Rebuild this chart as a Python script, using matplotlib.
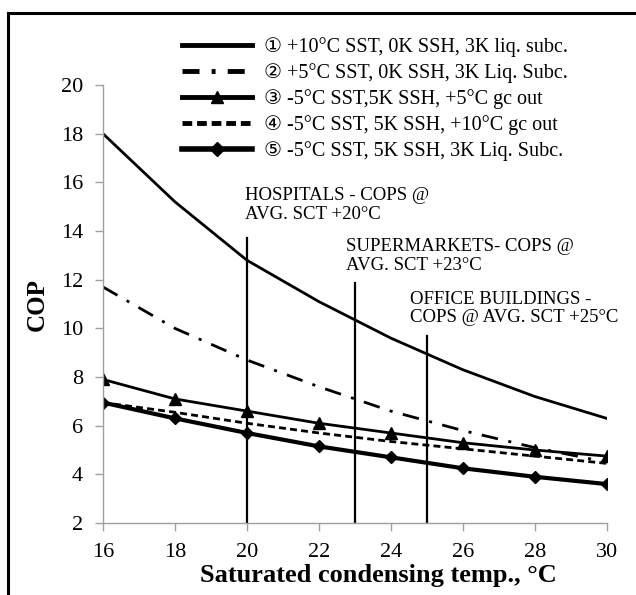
import matplotlib.pyplot as plt
from matplotlib.lines import Line2D
import numpy as np

plt.rcParams['font.family'] = ['Liberation Serif', 'DejaVu Sans']

# data
sct = [16, 18, 20, 22, 24, 26, 28, 30]
cop_1 = [18.0, 15.2, 12.8, 11.1, 9.6, 8.3, 7.2, 6.3]
cop_2 = [11.7, 10.0, 8.7, 7.6, 6.6, 5.8, 5.1, 4.5]
cop_3 = [7.9, 7.1, 6.6, 6.1, 5.7, 5.3, 5.0, 4.75]
cop_4 = [6.95, 6.55, 6.1, 5.7, 5.35, 5.05, 4.75, 4.45]
cop_5 = [6.95, 6.3, 5.7, 5.15, 4.7, 4.25, 3.9, 3.6]

labels = ["\u2460 +10\u00b0C SST, 0K SSH, 3K liq. subc.",
          "\u2461 +5\u00b0C SST, 0K SSH, 3K Liq. Subc.",
          "\u2462 -5\u00b0C SST,5K SSH, +5\u00b0C gc out",
          "\u2463 -5\u00b0C SST, 5K SSH, +10\u00b0C gc out",
          "\u2464 -5\u00b0C SST, 5K SSH, 3K Liq. Subc."]

# vertical markers: x position, top of line, text
vlines_x = [20, 23, 25]
vlines_top = [13.7, 11.85, 9.7]
vlines_txt = ["HOSPITALS - COPS @\nAVG. SCT +20\u00b0C",
              "SUPERMARKETS- COPS @\nAVG. SCT +23\u00b0C",
              "OFFICE BUILDINGS -\nCOPS @ AVG. SCT +25\u00b0C"]

fig = plt.figure(figsize=(6.36, 5.95), dpi=100)
ax = fig.add_axes([0.162, 0.121, 0.792, 0.736])

ax.plot(sct, cop_1, color='k', lw=2.0)
ax.plot(sct, cop_2, color='k', lw=2.0, dashes=(6, 3.8, 1.1, 3.8))
ax.plot(sct, cop_3, color='k', lw=2.0, marker='^', ms=9)
ax.plot(sct, cop_4, color='k', lw=2.0, dashes=(2.5, 1.5))
ax.plot(sct, cop_5, color='k', lw=3.0, marker='D', ms=6.5)

for xv, top in zip(vlines_x, vlines_top):
    ax.plot([xv, xv], [2, top], color='k', lw=1.6)

ax.text(19.94, 15.07, vlines_txt[0], fontsize=13.5, va='center', ha='left', linespacing=1.1)
ax.text(22.75, 12.97, vlines_txt[1], fontsize=13.5, va='center', ha='left', linespacing=1.1)
ax.text(24.53, 10.82, vlines_txt[2], fontsize=13.5, va='center', ha='left', linespacing=1.1)

ax.set_xlim(16, 30)
ax.set_ylim(2, 20)
ax.set_xticks(np.arange(16, 31, 2))
ax.set_yticks(np.arange(2, 21, 2))
ax.tick_params(direction='out', length=5.5, width=1, color='#a0a0a0', labelsize=16)
ax.tick_params(axis='x', pad=9)
ax.tick_params(axis='y', pad=9)
for s in ['top', 'right']:
    ax.spines[s].set_visible(False)
for s in ['left', 'bottom']:
    ax.spines[s].set_color('#a0a0a0')
    ax.spines[s].set_linewidth(1)

ax.set_ylabel('COP', fontsize=18, fontweight='bold', va='center')
ax.yaxis.set_label_coords(-0.131, 0.5)
ax.set_xlabel('Saturated condensing temp., \u00b0C', fontsize=19, fontweight='bold', va='center')
ax.xaxis.set_label_coords(0.546, -0.121)

handles = [Line2D([], [], color='k', lw=3.5),
           Line2D([], [], color='k', lw=3.5, dashes=(3.5, 2.5, 0.8, 2.5)),
           Line2D([], [], color='k', lw=3.5, marker='^', ms=9),
           Line2D([], [], color='k', lw=3.5, dashes=(2, 1)),
           Line2D([], [], color='k', lw=4.0, marker='D', ms=7)]
ax.legend(handles, labels, loc='upper left', bbox_to_anchor=(0.286, 0.937),
          bbox_transform=fig.transFigure, frameon=False, fontsize=14.5,
          handlelength=3.5, handletextpad=0.6, labelspacing=0.3, borderpad=0,
          borderaxespad=0)

# border on left and top of the figure
fig.add_artist(Line2D([0.0125, 0.0125], [0.0, 0.978], color='k', lw=2.2, transform=fig.transFigure))
fig.add_artist(Line2D([0.0125, 1.0], [0.978, 0.978], color='k', lw=2.2, transform=fig.transFigure))

fig.savefig('out.png', dpi=100)
